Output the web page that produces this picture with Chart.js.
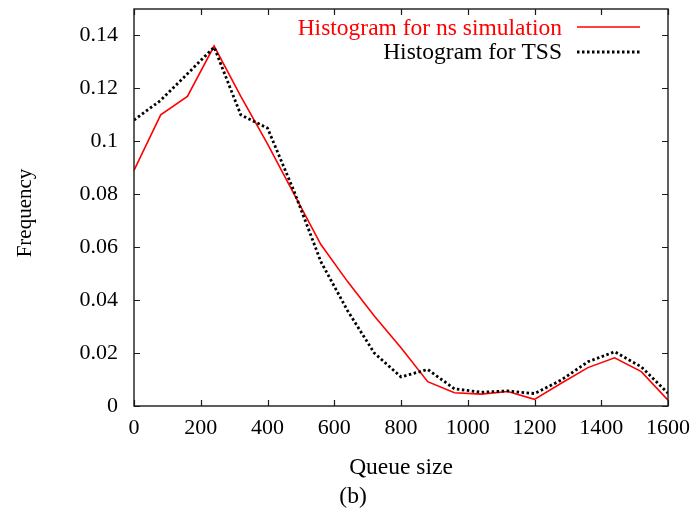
<!DOCTYPE html>
<html><head><meta charset="utf-8">
<script src="https://cdn.jsdelivr.net/npm/chart.js@4/dist/chart.umd.min.js"></script>
<style>html,body{margin:0;padding:0;background:#fff;}</style>
</head><body>
<canvas id="c" width="699" height="512"></canvas>
<script>
// ---- data ----
const queueSizes = [0, 80, 160, 240, 320, 400, 480, 560, 640, 720, 800, 880, 960, 1040, 1120, 1200, 1280, 1360, 1440, 1520, 1600];
const nsSimulation = [0.089, 0.110, 0.117, 0.136, 0.117, 0.099, 0.080, 0.061, 0.047, 0.034, 0.022, 0.0092, 0.0050, 0.0045, 0.0055, 0.0025, 0.0086, 0.0145, 0.0182, 0.0130, 0.0022];
const tssHistogram = [0.108, 0.1155, 0.1255, 0.1356, 0.110, 0.105, 0.081, 0.0545, 0.036, 0.020, 0.011, 0.0138, 0.0065, 0.0052, 0.0057, 0.0047, 0.0098, 0.0167, 0.0205, 0.0148, 0.0048];
const seriesNames = ['Histogram for ns simulation', 'Histogram for TSS'];
const xTickLabels = ['0', '200', '400', '600', '800', '1000', '1200', '1400', '1600'];
const yTickLabels = ['0', '0.02', '0.04', '0.06', '0.08', '0.1', '0.12', '0.14'];
const xTitle = 'Queue size';
const yTitle = 'Frequency';
const caption = '(b)';

const FONT = '"Liberation Serif", "Times New Roman", serif';
const toPoints = (ys) => queueSizes.map((x, i) => ({x: x, y: ys[i]}));

const decor = {
  id: 'decor',
  afterDraw(chart) {
    const {ctx, chartArea: a, scales: {x, y}} = chart;
    ctx.save();
    // frame
    ctx.strokeStyle = '#1a1a1a';
    ctx.lineWidth = 1.4;
    ctx.strokeRect(a.left, a.top, a.right - a.left, a.bottom - a.top);
    // inward tick marks on all four sides
    const tl = 6;
    ctx.beginPath();
    x.ticks.forEach(t => {
      const px = Math.round(x.getPixelForValue(t.value)) + 0.5;
      ctx.moveTo(px, a.bottom); ctx.lineTo(px, a.bottom - tl);
      ctx.moveTo(px, a.top); ctx.lineTo(px, a.top + tl);
    });
    y.ticks.forEach(t => {
      const py = Math.round(y.getPixelForValue(t.value)) + 0.5;
      ctx.moveTo(a.left, py); ctx.lineTo(a.left + tl, py);
      ctx.moveTo(a.right, py); ctx.lineTo(a.right - tl, py);
    });
    ctx.lineWidth = 1.2;
    ctx.stroke();
    // y-axis title (rotated)
    ctx.save();
    ctx.translate(25, 213);
    ctx.rotate(-Math.PI / 2);
    ctx.font = '21px ' + FONT;
    ctx.fillStyle = '#000';
    ctx.textAlign = 'center';
    ctx.textBaseline = 'middle';
    ctx.fillText(yTitle, 0, 0);
    ctx.restore();
    // legend (top right, inside the plot)
    ctx.font = '23.5px ' + FONT;
    ctx.textAlign = 'right';
    ctx.textBaseline = 'alphabetic';
    const ds = chart.data.datasets;
    const rows = [{ds: ds[0], base: 35, ly: 27}, {ds: ds[1], base: 59, ly: 52}];
    rows.forEach(r => {
      ctx.fillStyle = r.ds.legendTextColor;
      ctx.fillText(r.ds.label, 562, r.base);
      ctx.beginPath();
      ctx.strokeStyle = r.ds.borderColor;
      ctx.lineWidth = r.ds.borderWidth;
      ctx.setLineDash(r.ds.borderDash || []);
      ctx.moveTo(577, r.ly); ctx.lineTo(640, r.ly);
      ctx.stroke();
      ctx.setLineDash([]);
    });
    // caption
    ctx.fillStyle = '#000';
    ctx.textAlign = 'center';
    ctx.fillText(caption, 353, 503);
    ctx.restore();
  }
};

new Chart(document.getElementById('c'), {
  type: 'line',
  data: {
    datasets: [
      {label: seriesNames[0], data: toPoints(nsSimulation), borderColor: '#ff0000', legendTextColor: '#ff0000',
       borderWidth: 1.6, pointRadius: 0, tension: 0, fill: false, order: 1},
      {label: seriesNames[1], data: toPoints(tssHistogram), borderColor: '#000000', legendTextColor: '#000000',
       borderWidth: 2.8, borderDash: [2.5, 2.5], pointRadius: 0, tension: 0, fill: false, order: 0}
    ]
  },
  options: {
    responsive: false,
    devicePixelRatio: 1,
    animation: false,
    layout: {padding: {left: 0, right: 31, top: 9, bottom: 0}},
    plugins: {legend: {display: false}, tooltip: {enabled: false}},
    scales: {
      x: {
        type: 'linear', min: 0, max: 1600,
        grid: {display: false, drawTicks: false},
        border: {display: false},
        ticks: {stepSize: 200, padding: 9, color: '#000', font: {family: FONT, size: 22},
                maxRotation: 0, callback: (v, i) => xTickLabels[i]},
        title: {display: true, text: xTitle, color: '#000', font: {family: FONT, size: 23.5}, padding: {top: 0, bottom: 30}},
        afterFit: (s) => { s.height = 106; s.paddingLeft = 0; s.paddingRight = 0; }
      },
      y: {
        type: 'linear', min: 0, max: 0.15,
        grid: {display: false, drawTicks: false},
        border: {display: false},
        ticks: {stepSize: 0.02, includeBounds: false, padding: 16, color: '#000', font: {family: FONT, size: 22},
                callback: (v, i) => yTickLabels[i]},
        title: {display: false, text: yTitle},
        afterFit: (s) => { s.width = 134; s.paddingTop = 0; s.paddingBottom = 0; }
      }
    }
  },
  plugins: [decor]
});
</script>
</body></html>
